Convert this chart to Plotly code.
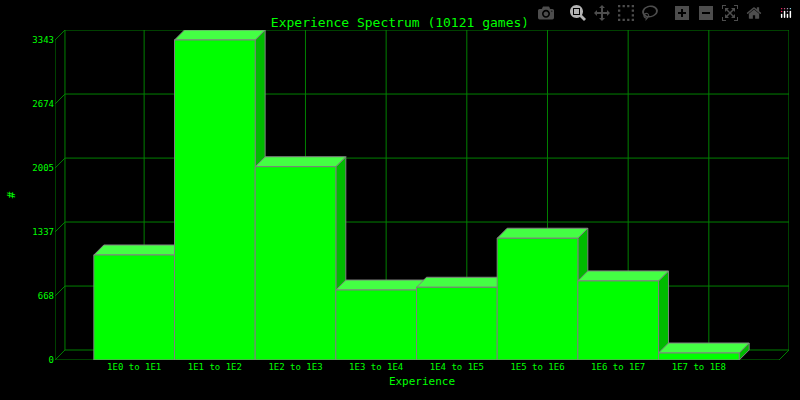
import plotly.graph_objects as go

categories = ["1E0 to 1E1", "1E1 to 1E2", "1E2 to 1E3", "1E3 to 1E4",
              "1E4 to 1E5", "1E5 to 1E6", "1E6 to 1E7", "1E7 to 1E8"]
counts = [1097, 3343, 2019, 731, 760, 1272, 826, 73]
ytick_vals = [0, 668, 1337, 2005, 2674, 3343]
title = "Experience Spectrum (%d games)" % sum(counts)

GREEN = "#00ff00"
GRID = "#008000"
FONT = "DejaVu Sans Mono"

# pixel geometry -> data units
px_x = 1 / 81.0
px_y = max(counts) / 320.0
dx, dy = 10 * px_x, 10 * px_y
x0 = -79.5 * px_x
x1 = x0 + 737 * px_x
y1 = 330 * px_y
xf = x1 - dx  # front right edge

shapes = []


def line(xa, ya, xb, yb):
    shapes.append(dict(type="line", x0=xa, y0=ya, x1=xb, y1=yb, xref="x", yref="y",
                       line=dict(color=GRID, width=1), layer="below"))


def poly(pts, color):
    path = "M " + " L ".join("%f,%f" % p for p in pts) + " Z"
    shapes.append(dict(type="path", path=path, xref="x", yref="y", fillcolor=color,
                       line=dict(color="#808080", width=1), layer="below"))


# back panel grid
for v in ytick_vals:
    line(x0, v, x0 + dx, v + dy)
    line(x0 + dx, v + dy, x1, v + dy)
for i in range(len(categories)):
    line(i + dx, dy, i + dx, y1)
line(x0 + dx, dy, x0 + dx, y1)
line(x1, dy, x1, y1)
line(x0, 0, x0, max(ytick_vals))
line(x0, 0, xf, 0)
line(xf, 0, x1, dy)

# 3D faces
for i, h in enumerate(counts):
    l, r = i - 0.5, i + 0.5
    poly([(r, 0), (r + dx, dy), (r + dx, h + dy), (r, h)], "#00bb00")
    poly([(l, h), (l + dx, h + dy), (r + dx, h + dy), (r, h)], "#44ff44")

fig = go.Figure(go.Bar(
    x=list(range(len(categories))), y=counts, width=1,
    marker=dict(color=GREEN, line=dict(color="#808080", width=1)),
))

fig.update_layout(
    width=800, height=400,
    paper_bgcolor="black", plot_bgcolor="black",
    margin=dict(l=52, r=11, t=30, b=40),
    shapes=shapes, showlegend=False,
    font=dict(family=FONT, color=GREEN, size=9),
    title=dict(text=title, x=0.5, y=0.955, xanchor="center",
               font=dict(size=13, family=FONT, color=GREEN)),
)
fig.update_xaxes(range=[x0, x1], showgrid=False, zeroline=False, showline=False,
                 tickvals=list(range(len(categories))), ticktext=categories,
                 ticks="", title=dict(text="Experience", font=dict(size=11), standoff=6))
fig.update_yaxes(range=[0, y1], showgrid=False, zeroline=False, showline=False,
                 tickvals=ytick_vals, ticks="",
                 title=dict(text="#", font=dict(size=11), standoff=14))

fig.write_html("out.html",
               post_script="document.body.style.margin='0';document.body.style.background='black';")
